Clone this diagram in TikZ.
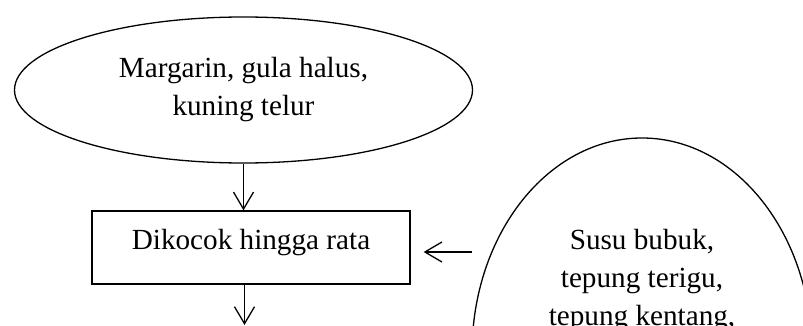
\documentclass[tikz,border=0pt]{standalone}
\usepackage{fontspec}
\setmainfont{Liberation Serif}
\usetikzlibrary{shapes.geometric,arrows.meta}
\tikzset{
  every picture/.style={line width=1.3pt},
  lbl/.style={font=\fontsize{29.2}{38}\selectfont, align=center, inner sep=0pt},
  ingr/.style={draw, ellipse, inner sep=0pt},
  stepbox/.style={draw, rectangle, inner sep=0pt, font=\fontsize{29.2}{38}\selectfont},
  arr/.style={-{Straight Barb[length=17pt,width=20pt,line width=1.3pt]}}
}
\begin{document}
\begin{tikzpicture}[x=1pt,y=-1pt]
  \useasboundingbox (0,0) rectangle (803,326);
  \clip (0,0) rectangle (803,326);
  \node[ingr, lbl, minimum width=458pt, minimum height=146pt] (top) at (243.5,90)
    {Margarin, gula halus,\\kuning telur};
  \node[stepbox, minimum width=318pt, minimum height=73pt, text height=20pt, text depth=16pt] (box) at (251,247.5)
    {Dikocok hingga rata};
  \node[ingr, minimum width=340pt, minimum height=430pt] (ing2) at (642,353) {};
  \node[lbl, anchor=north] (ing2text) at (642,228.5)
    {Susu bubuk,\\tepung terigu,\\tepung kentang,};
  \coordinate (s) at (472,252);
  \coordinate (endb) at (244.5,325);
  \draw[arr] (top.south) -- (top.south |- box.north);
  \draw[arr] (endb |- box.south) -- (endb);
  \draw[arr, shorten >=13pt] (s) -- (box.east |- s);
\end{tikzpicture}
\end{document}
